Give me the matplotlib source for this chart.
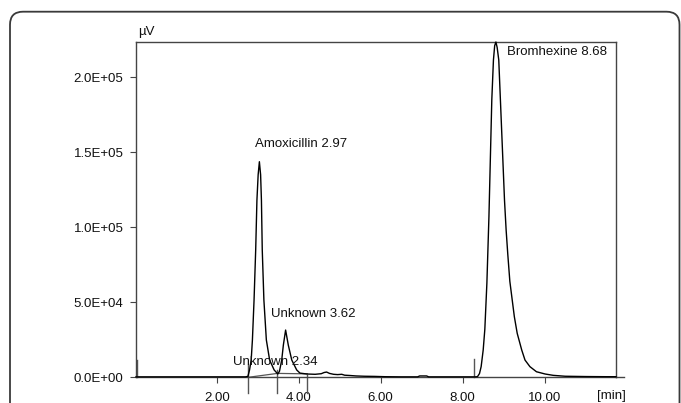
import matplotlib
matplotlib.use("Agg")
import matplotlib.pyplot as plt
from matplotlib.patches import FancyBboxPatch

# ---------------- data ----------------
time_min = [0.03, 0.5, 1.0, 1.5, 2.0, 2.5, 2.70, 2.76,
            2.80, 2.84, 2.87, 2.91, 2.95, 2.98, 3.01, 3.04, 3.07, 3.09, 3.11, 3.15,
            3.21, 3.29, 3.40, 3.49,
            3.53, 3.585, 3.625, 3.68, 3.745, 3.83, 3.95, 4.03,
            4.20, 4.40, 4.55, 4.62, 4.68, 4.75, 4.85, 4.95, 5.05, 5.12, 5.25, 5.40,
            5.60, 5.85, 6.10, 6.50, 6.90, 6.95, 7.12, 7.17, 7.50, 8.00, 8.30, 8.36,
            8.41, 8.45, 8.50, 8.54, 8.59, 8.64, 8.68, 8.71, 8.75, 8.78, 8.81, 8.84, 8.88,
            8.92, 8.97, 9.02, 9.06, 9.10, 9.15, 9.26, 9.33, 9.44, 9.52, 9.64, 9.80,
            10.01, 10.21, 10.50, 11.00, 11.50, 11.74]
signal_uv = [300, 300, 300, 300, 300, 300, 300, 600,
             4900, 11500, 24900, 51500, 85000, 118000, 135000, 143700, 135000, 118000, 85000, 51500,
             24900, 11500, 4900, 2200,
             4000, 11500, 21500, 31500, 21500, 11500, 4900, 2800,
             2200, 2000, 2400, 3200, 3500, 2600, 2000, 1800, 2000, 1400, 1200, 900,
             700, 600, 400, 300, 300, 900, 900, 300, 300, 300, 300, 400,
             2500, 7100, 18200, 32000, 62700, 107000, 151500, 184900, 211500, 221000, 223500, 220000, 211500,
             184900, 151500, 118000, 98000, 82000, 64000, 40400, 29300, 18200, 11500, 7100, 3700,
             2200, 1300, 700, 500, 400, 400]

peak_labels = ["Amoxicillin 2.97", "Bromhexine 8.68", "Unknown 3.62", "Unknown 2.34"]

marker_t = [0.06, 2.77, 3.48, 4.21, 8.27]
marker_lo = [0, -10500, -10500, -10500, 0]
marker_hi = [11500, 8200, 4900, 1500, 12200]

base_t = [2.77, 3.48, 4.21]
base_v = [0, 2600, 2300]

x_ticks = [2.0, 4.0, 6.0, 8.0, 10.0]
x_ticklabels = ["2.00", "4.00", "6.00", "8.00", "10.00"]
y_ticks = [0, 50000, 100000, 150000, 200000]
y_ticklabels = ["0.0E+00", "5.0E+04", "1.0E+05", "1.5E+05", "2.0E+05"]

# ---------------- layout / style ----------------
label_pos = [(2.94, 153700), (9.07, 214900), (3.32, 40400), (2.39, 8200)]

plt.rcParams['font.family'] = ['Liberation Sans', 'DejaVu Sans']
FS = 9.5
W, H = 681, 403
fig = plt.figure(figsize=(W / 100, H / 100), dpi=100)
fig.patch.set_facecolor('white')

# outer rounded frame (bottom edge falls outside the picture)
frame = FancyBboxPatch((10, -60), 669.5, H - 11.7 + 60,
                       boxstyle="round,pad=0,rounding_size=13",
                       transform=None, facecolor='none', edgecolor='#3a3a3a',
                       linewidth=1.3)
fig.patches.append(frame)

ax = fig.add_axes([136 / W, (H - 377.3) / H, (616 - 136) / W, (377.3 - 41.7) / H])
ax.set_xlim(0.03, 11.74)
ax.set_ylim(0, 223700)

spine_c = '#444444'
for s in ['left', 'top', 'right', 'bottom']:
    ax.spines[s].set_color(spine_c)
    ax.spines[s].set_linewidth(1.0)

ax.plot(time_min, signal_uv, color='black', linewidth=1.0, clip_on=False, zorder=3)

# integration markers and baselines
for t, lo, hi in zip(marker_t, marker_lo, marker_hi):
    ax.plot([t, t], [lo, hi], color='#555555', linewidth=1.0, clip_on=False, zorder=2)
ax.plot(base_t, base_v, color='#555555', linewidth=0.9, zorder=2)

# extended x-axis line past the right spine
ax.plot([11.74, 11.94], [0, 0], color=spine_c, linewidth=1.0, clip_on=False)

ax.set_xticks(x_ticks)
ax.set_xticklabels(x_ticklabels)
ax.set_yticks(y_ticks)
ax.set_yticklabels(y_ticklabels)
ax.tick_params(axis='both', direction='out', length=4, width=0.8, color=spine_c,
               labelsize=FS, labelcolor='#111111')
ax.tick_params(axis='x', pad=6.5)
ax.tick_params(axis='y', pad=5)

for txt, (px, py) in zip(peak_labels, label_pos):
    ax.text(px, py, txt, fontsize=FS, color='#111111', ha='left', va='baseline')

fig.text(138 / W, (H - 31.7) / H, "µV", fontsize=FS, color='#111111', ha='left', va='center')
fig.text(611.5 / W, (H - 396.5) / H, "[min]", fontsize=FS, color='#111111', ha='center', va='center')

fig.savefig("out.png", dpi=100)
